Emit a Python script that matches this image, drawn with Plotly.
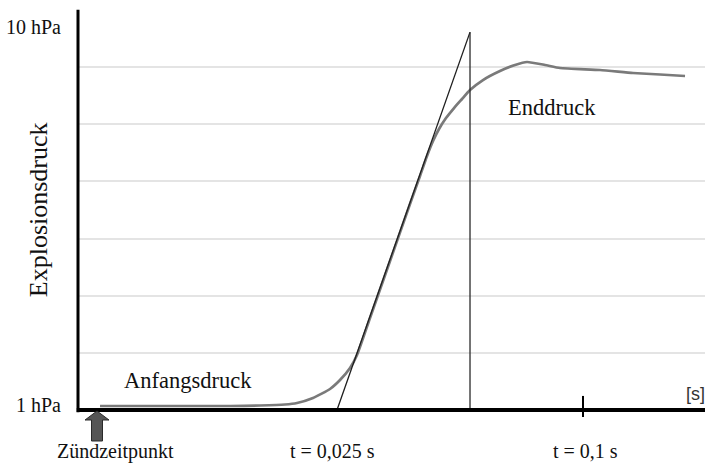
import plotly.graph_objects as go

# --- data (time in ms, pressure in hPa) ---
curve_t = [0.62, 27.37, 33.54, 38.68, 41.15, 44.44, 47.94, 50.00, 52.06, 53.50,
           56.17, 60.29, 64.40, 66.46, 67.90, 69.14, 70.37, 71.81, 73.46, 75.10,
           76.75, 79.42, 82.92, 86.01, 88.48, 92.18, 95.27, 103.50, 110.29, 115.84, 120.99]
curve_p = [1.094, 1.094, 1.106, 1.129, 1.164, 1.282, 1.493, 1.704, 1.986, 2.291,
           3.160, 4.498, 5.836, 6.493, 6.962, 7.315, 7.596, 7.854, 8.089, 8.300,
           8.512, 8.746, 8.958, 9.099, 9.169, 9.099, 9.028, 8.981, 8.911, 8.876, 8.840]
tangent_t = [49.38, 76.75]
tangent_p = [1.0, 9.87]
end_t = [76.75, 76.75]
end_p = [1.0, 9.87]

x_range = [-3.91, 125.1]
y_range = [-0.2676, 10.4014]
grid_step = 1.3414
tick_t = 100

PX_W, PX_H = 705, 464
SERIF = "Liberation Serif"

fig = go.Figure()
fig.add_trace(go.Scatter(x=curve_t, y=curve_p, mode="lines",
                         line=dict(color="#7a7a7a", width=2.7, shape="spline", smoothing=0.5),
                         hoverinfo="skip", showlegend=False))
fig.add_trace(go.Scatter(x=tangent_t, y=tangent_p, mode="lines",
                         line=dict(color="#1e1e1e", width=1.3), hoverinfo="skip", showlegend=False))
fig.add_trace(go.Scatter(x=end_t, y=end_p, mode="lines",
                         line=dict(color="#2a2a2a", width=1.3), hoverinfo="skip", showlegend=False))

fig.update_layout(
    width=PX_W, height=PX_H,
    margin=dict(l=0, r=0, t=0, b=0),
    paper_bgcolor="white", plot_bgcolor="white",
    xaxis=dict(domain=[78 / PX_W, 1], range=x_range, showgrid=False, zeroline=False,
               showticklabels=False, showline=False, fixedrange=True),
    yaxis=dict(domain=[0, (PX_H - 9.5) / PX_H], range=y_range,
               tickmode="linear", tick0=1.0, dtick=grid_step,
               showgrid=True, gridcolor="#e4e4e4", gridwidth=1.5,
               zeroline=False, showticklabels=False, showline=False, fixedrange=True),
)

shapes = []
# y axis line
shapes.append(dict(type="line", xref="x domain", yref="y", x0=0, x1=0,
                   y0=0.95, y1=y_range[1], line=dict(color="black", width=3)))
# x axis line
shapes.append(dict(type="line", xref="x domain", yref="y", x0=-0.002, x1=1,
                   y0=1.0, y1=1.0, line=dict(color="black", width=4)))
# tick at t = 0.1 s
shapes.append(dict(type="line", xref="x", yref="y", x0=tick_t, x1=tick_t,
                   y0=0.835, y1=1.33, line=dict(color="black", width=2)))
# ignition arrow (block arrow anchored at t=0)
shapes.append(dict(type="path", xref="x", yref="y", xsizemode="pixel", ysizemode="pixel",
                   xanchor=0, yanchor=1.0,
                   path="M 0 -1 L 12 -10 L 5.5 -10 L 5.5 -31 L -5.5 -31 L -5.5 -10 L -12 -10 Z",
                   fillcolor="#555555", line=dict(color="#2a2a2a", width=1)))
fig.update_layout(shapes=shapes)

def px(x):
    return x / PX_W

def py(y):
    return (PX_H - y) / PX_H

ann = []
ann.append(dict(text="10 hPa", xref="paper", yref="y", x=px(63), y=10.0, xanchor="right",
                yanchor="middle", showarrow=False, font=dict(family=SERIF, size=20, color="#111")))
ann.append(dict(text="1 hPa", xref="paper", yref="y", x=px(63), y=1.12, xanchor="right",
                yanchor="middle", showarrow=False, font=dict(family=SERIF, size=20, color="#111")))
ann.append(dict(text="Explosionsdruck", xref="paper", yref="y", x=px(38), y=5.69, textangle=-90,
                xanchor="center", yanchor="middle", showarrow=False,
                font=dict(family=SERIF, size=26, color="#111")))
ann.append(dict(text="Anfangsdruck", xref="x", yref="y", x=18.7, y=1.70,
                xanchor="center", yanchor="middle", showarrow=False,
                font=dict(family=SERIF, size=22.5, color="#111")))
ann.append(dict(text="Enddruck", xref="x", yref="y", x=93.6, y=8.09,
                xanchor="center", yanchor="middle", showarrow=False,
                font=dict(family=SERIF, size=22.5, color="#111")))
ann.append(dict(text="t = 0,025 s", xref="paper", yref="paper", x=px(332), y=py(451),
                xanchor="center", yanchor="middle", showarrow=False,
                font=dict(family=SERIF, size=20, color="#111")))
ann.append(dict(text="t = 0,1 s", xref="paper", yref="paper", x=px(585), y=py(451),
                xanchor="center", yanchor="middle", showarrow=False,
                font=dict(family=SERIF, size=20, color="#111")))
ann.append(dict(text="Zündzeitpunkt", xref="paper", yref="paper", x=px(115), y=py(451),
                xanchor="center", yanchor="middle", showarrow=False,
                font=dict(family=SERIF, size=20, color="#111")))
ann.append(dict(text="[s]", xref="paper", yref="paper", x=px(695), y=py(394),
                xanchor="center", yanchor="middle", showarrow=False,
                font=dict(family="Liberation Sans", size=18, color="#333")))
fig.update_layout(annotations=ann)

fig.write_html("out.html")
